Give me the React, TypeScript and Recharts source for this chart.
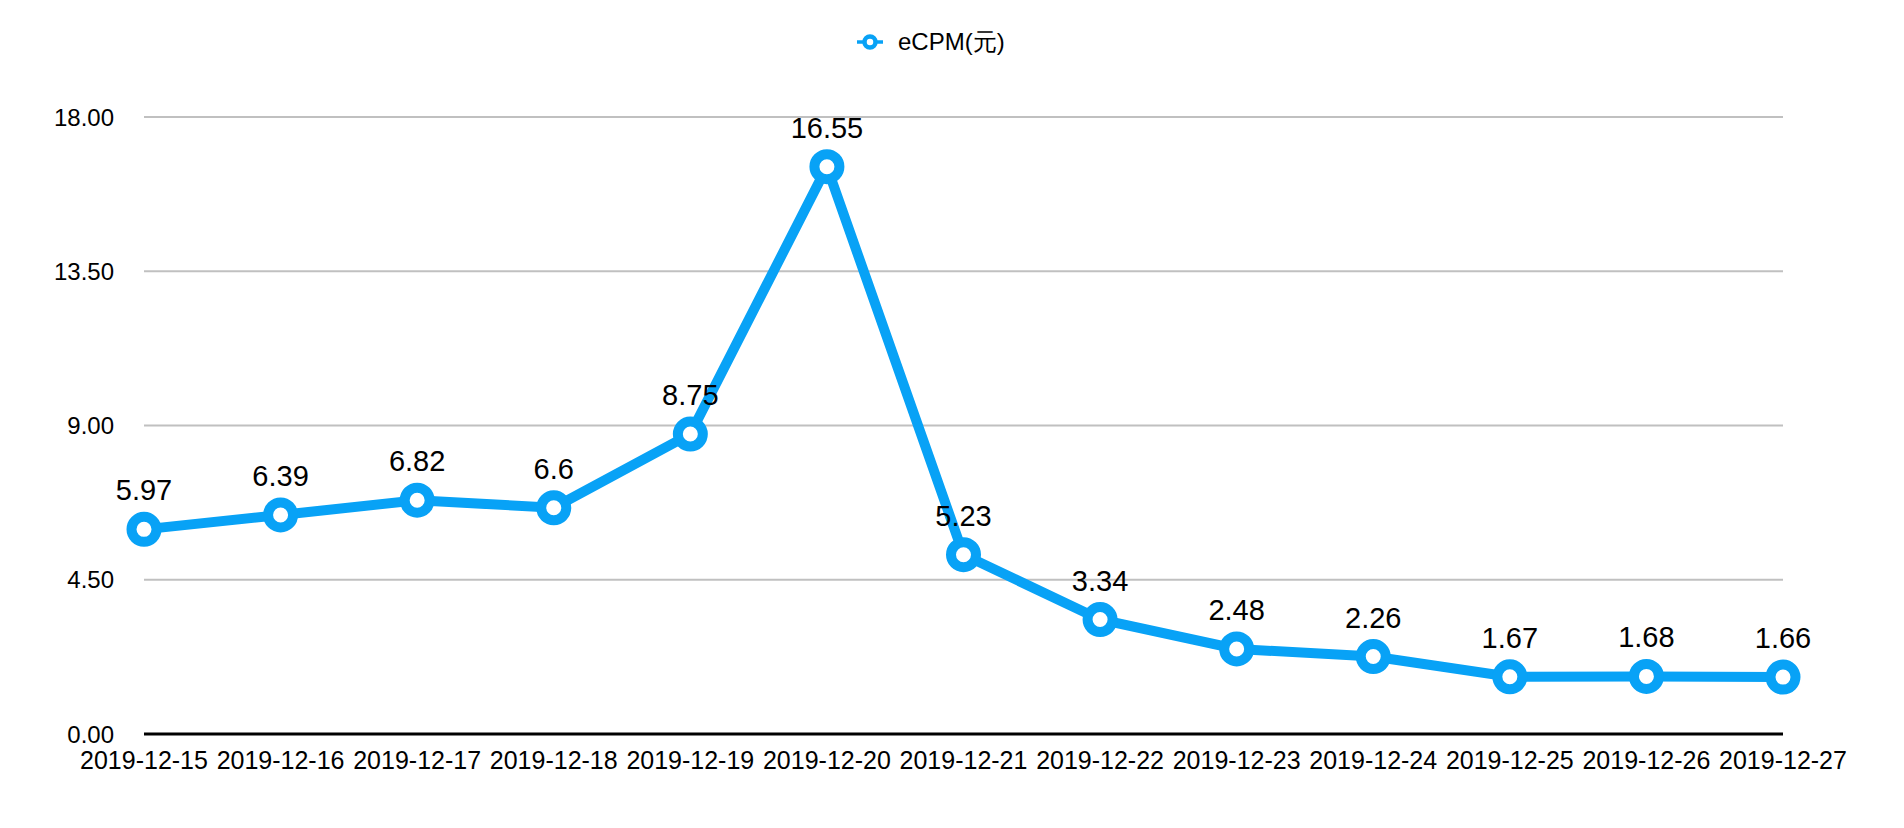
import React from "react";
import { LineChart, Line, XAxis, YAxis, CartesianGrid, Legend, LabelList } from "recharts";

const categories = [
  "2019-12-15", "2019-12-16", "2019-12-17", "2019-12-18", "2019-12-19", "2019-12-20", "2019-12-21",
  "2019-12-22", "2019-12-23", "2019-12-24", "2019-12-25", "2019-12-26", "2019-12-27",
];
const ecpmValues = [5.97, 6.39, 6.82, 6.6, 8.75, 16.55, 5.23, 3.34, 2.48, 2.26, 1.67, 1.68, 1.66];
const yTicks = [0, 4.5, 9, 13.5, 18];
const seriesName = "eCPM(元)";

const data = categories.map((c, i) => ({ date: c, ecpm: ecpmValues[i] }));

const BLUE = "#08A2F6";
const FONT = "Helvetica, 'Liberation Sans', Arial, sans-serif";

const LegendContent = () => (
  <div style={{ position: "relative", height: 101, width: 1888, fontFamily: FONT }}>
    <div style={{ position: "absolute", left: 849, top: 34, transform: "translateY(-50%)", display: "flex", alignItems: "center" }}>
      <svg width={26} height={20} style={{ display: "block" }}>
        <line x1={0} y1={10} x2={26} y2={10} stroke={BLUE} strokeWidth={3.5} />
        <circle cx={13} cy={10} r={5.5} fill="#fff" stroke={BLUE} strokeWidth={4.5} />
      </svg>
      <span style={{ marginLeft: 15, fontSize: 24, color: "#000", lineHeight: "28px" }}>{seriesName}</span>
    </div>
  </div>
);

export default function App() {
  return (
    <div style={{ width: 1888, height: 812, fontFamily: FONT }}>
      <LineChart width={1888} height={812} data={data} margin={{ top: 8, right: 113, left: 0, bottom: 0 }}>
        <CartesianGrid vertical={false} stroke="#c0c0c0" strokeWidth={2} />
        <XAxis
          dataKey="date"
          interval={0}
          height={86}
          tickLine={false}
          tickSize={0}
          tickMargin={17}
          axisLine={{ stroke: "#000", strokeWidth: 3 }}
          tick={{ fontSize: 25, fill: "#000", fontFamily: FONT }}
        />
        <YAxis
          domain={[0, 18]}
          ticks={yTicks}
          width={136}
          axisLine={false}
          tickLine={false}
          tickSize={0}
          tickMargin={30}
          tickFormatter={(v: number) => v.toFixed(2)}
          tick={{ fontSize: 24, fill: "#000", fontFamily: FONT }}
        />
        <Legend verticalAlign="top" wrapperStyle={{ left: 0, top: 0, width: 1888 }} content={<LegendContent />} />
        <Line
          type="linear"
          dataKey="ecpm"
          name={seriesName}
          stroke={BLUE}
          strokeWidth={10}
          dot={{ r: 12.5, fill: "#fff", stroke: BLUE, strokeWidth: 10 }}
          activeDot={false}
          isAnimationActive={false}
        >
          <LabelList dataKey="ecpm" position="top" offset={29} fill="#000" fontSize={29} fontFamily={FONT} />
        </Line>
      </LineChart>
    </div>
  );
}
